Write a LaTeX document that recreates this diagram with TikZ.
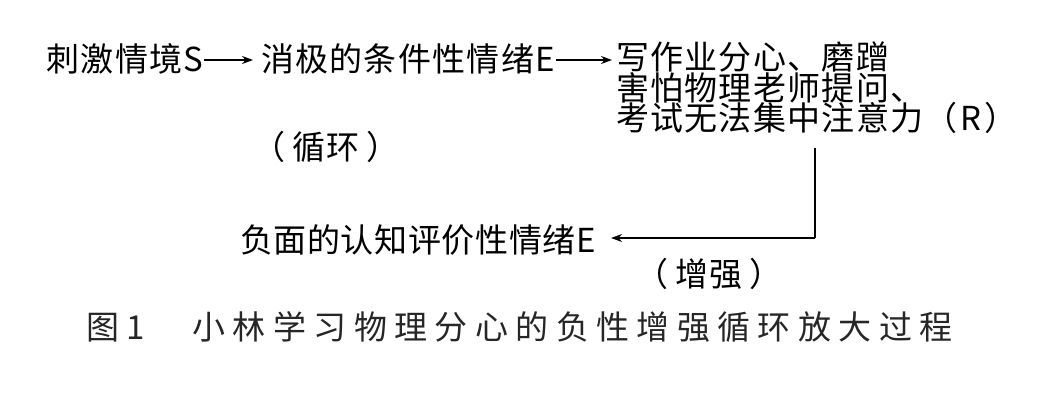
\documentclass[tikz,border=0pt]{standalone}
\usepackage{fontspec}
\newfontfamily\cjk[LetterSpace=4]{Noto Sans CJK SC}
\newfontfamily\cjkn[LetterSpace=2]{Noto Sans CJK SC}
\newfontfamily\cjkcap[LetterSpace=22.4]{Noto Sans CJK SC}
\usetikzlibrary{arrows.meta}
\begin{document}
\begin{tikzpicture}[x=1pt,y=-1pt,
  txt/.style={inner sep=0pt, outer sep=0pt, anchor=base west, font=\cjk\fontsize{33}{33}\selectfont, text height=28pt, text depth=4pt},
  lbl/.style={inner sep=0pt, outer sep=0pt, font=\cjk\fontsize{33}{33}\selectfont, text height=28pt, text depth=4pt},
  plainline/.style={line width=1.6pt},
  arr/.style={line width=1.6pt, -{Stealth[length=11pt,width=8pt]}},
  captxt/.style={inner sep=0pt, outer sep=0pt, anchor=base west, font=\cjkcap\fontsize{33}{33}\selectfont, text=black!85}]
\useasboundingbox (0,0) rectangle (1062,403);
\node[txt] (S) at (46.5,72) {刺激情境S};
\node[txt] (E1) at (261,72) {消极的条件性情绪E};
\node[txt] (R1) at (616,70) {写作业分心、磨蹭};
\node[txt] (R2) at (616,100.5) {害怕物理老师提问、};
\node[txt] (R3) at (616,131) {考试无法集中注意力（\hspace{3pt}R\hspace{3pt}）};
\node[txt, font=\cjkn\fontsize{33}{33}\selectfont] (N) at (240,252) {负面的认知评价性情绪E};
\node[lbl] (L1) at (326,148) {（\hspace{7pt}循环\hspace{7pt}）};
\node[lbl] (L2) at (709,274) {（\hspace{7pt}增强\hspace{7pt}）};
\node[captxt] (C) at (86,339) {图1　小林学习物理分心的负性增强循环放大过程};
\coordinate (top) at (815,148);
\coordinate (corner) at (815,238);
\draw[arr, shorten <=1pt, shorten >=8pt] (S.east) -- (S.east -| E1.west);
\draw[arr, shorten <=1pt, shorten >=4pt] (E1.east) -- (E1.east -| R1.west);
\draw[plainline] (top) -- (corner);
\draw[arr] (corner) -- ([xshift=15pt]corner -| N.east);
\end{tikzpicture}
\end{document}
